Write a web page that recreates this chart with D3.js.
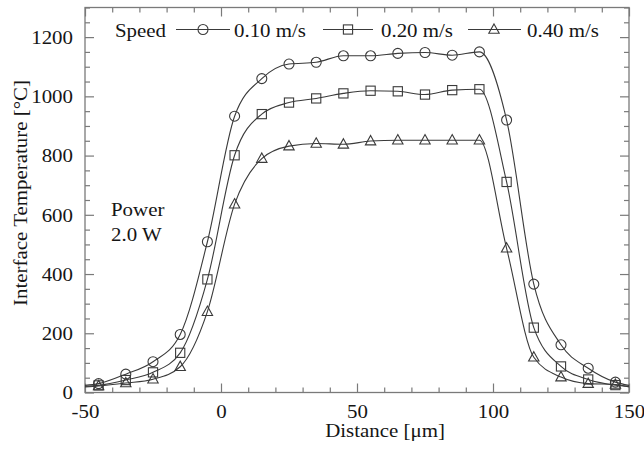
<!doctype html>
<html>
<head>
<meta charset="utf-8">
<title>Interface temperature</title>
<script src="https://cdnjs.cloudflare.com/ajax/libs/d3/7.8.5/d3.min.js"></script>
<style>
    body { margin: 0; background: #fff; }
    svg text {
        font-family: "Liberation Serif", "Times New Roman", serif;
        fill: #151515;
    }
    .tick line { stroke: #7a7a7a; stroke-width: 1.2; }
    .domain { display: none; }
    .curve { fill: none; stroke: #3a3a3a; stroke-width: 1.1; }
    .marker { fill: none; stroke: #3a3a3a; stroke-width: 1.1; }
</style>
</head>
<body>
<div id="chart"></div>
<script>
// Data
var distance = [-45, -35, -25, -15, -5, 5, 15, 25, 35, 45, 55, 65, 75, 85, 95, 105, 115, 125, 135, 145];
var speed010 = [30, 62, 104, 196, 509, 933, 1060, 1109, 1115, 1137, 1137, 1145, 1148, 1139, 1150, 920, 366, 161, 82, 35];
var speed020 = [24, 42, 68, 134, 382, 801, 940, 979, 993, 1010, 1019, 1017, 1006, 1021, 1024, 711, 219, 88, 44, 25];
var speed040 = [22, 32, 45, 87, 273, 636, 790, 832, 841, 838, 849, 852, 852, 852, 852, 487, 119, 52, 30, 27];
// where each curve meets the left (-50) and right (150) frame
var lineStart = [24, 21, 19];
var lineEnd = [24, 21, 19];
var seriesNames = ["0.10 m/s", "0.20 m/s", "0.40 m/s"];
var markerTypes = ["circle", "square", "triangle"];
var xTicks = [-50, 0, 50, 100, 150];
var yTicks = [0, 200, 400, 600, 800, 1000, 1200];

(function() {
    var width = 644, height = 449;
    var pLeft = 85, pRight = 629, pTop = 7.5, pBottom = 392.5;
    var sx = 1.1; // the figure's lettering is slightly wide

    var x = d3.scaleLinear().domain([-50, 150]).range([pLeft, pRight]);
    var y = d3.scaleLinear().domain([0, 1300]).range([pBottom, pTop]);

    var svg = d3.select("#chart").append("svg")
        .attr("width", width)
        .attr("height", height);

    // minor ticks
    var xMinor = d3.range(-50, 151, 10).filter(function(d) { return xTicks.indexOf(d) < 0; });
    var yMinor = d3.range(0, 1301, 50).filter(function(d) { return yTicks.indexOf(d) < 0; });

    function addAxis(axisFn, scale, pos, values, size) {
        return svg.append("g")
            .attr("transform", pos)
            .call(axisFn(scale).tickValues(values).tickSize(-size).tickFormat(""));
    }

    addAxis(d3.axisBottom, x, "translate(0," + pBottom + ")", xMinor, 5);
    addAxis(d3.axisTop, x, "translate(0," + pTop + ")", xMinor, 5);
    addAxis(d3.axisLeft, y, "translate(" + pLeft + ",0)", yMinor, 5);
    addAxis(d3.axisRight, y, "translate(" + pRight + ",0)", yMinor, 5);
    addAxis(d3.axisTop, x, "translate(0," + pTop + ")", xTicks, 9);
    addAxis(d3.axisRight, y, "translate(" + pRight + ",0)", yTicks, 9);

    // bottom axis with labels
    var xAxisG = svg.append("g")
        .attr("transform", "translate(0," + pBottom + ")")
        .call(d3.axisBottom(x).tickValues(xTicks).tickSize(-9).tickFormat(function(d) { return String(d); }));
    xAxisG.selectAll("text")
        .attr("y", 25.5)
        .attr("dy", 0)
        .attr("transform", "scale(" + sx + ",1)")
        .style("font-size", "19px");

    // left axis with labels
    var yAxisG = svg.append("g")
        .attr("transform", "translate(" + pLeft + ",0)")
        .call(d3.axisLeft(y).tickValues(yTicks).tickSize(-9).tickFormat(function(d) { return String(d); }));
    yAxisG.selectAll("text")
        .attr("x", -12 / sx)
        .attr("dy", "0.33em")
        .attr("transform", "scale(" + sx + ",1)")
        .style("font-size", "19px");

    // frame
    svg.append("rect")
        .attr("x", pLeft)
        .attr("y", pTop)
        .attr("width", pRight - pLeft)
        .attr("height", pBottom - pTop)
        .attr("fill", "none")
        .attr("stroke", "#7a7a7a")
        .attr("stroke-width", 1.3);

    // text helper, stretched horizontally like the original lettering
    function label(tx, ty, str, anchor, rot) {
        var g = svg.append("g")
            .attr("transform", "translate(" + tx + "," + ty + ")" + (rot ? " rotate(" + rot + ")" : "") + " scale(" + sx + ",1)");
        g.append("text")
            .attr("text-anchor", anchor || "start")
            .style("font-size", "19px")
            .text(str);
    }

    label((pLeft + pRight) / 2 + 28, 437, "Distance [\u03bcm]", "middle");
    label(27, 193, "Interface Temperature [\u00b0C]", "middle", -90);
    label(111, 216, "Power", "start");
    label(111, 241, "2.0 W", "start");

    // markers
    function drawMarker(sel, type, cx, cy) {
        if (type === "circle") {
            sel.append("circle").attr("class", "marker").attr("cx", cx).attr("cy", cy).attr("r", 5);
        } else if (type === "square") {
            sel.append("rect").attr("class", "marker").attr("x", cx - 4.6).attr("y", cy - 4.6).attr("width", 9.2).attr("height", 9.2);
        } else {
            sel.append("path").attr("class", "marker")
                .attr("d", "M" + cx + "," + (cy - 5.6) + "L" + (cx + 5.2) + "," + (cy + 3.8) + "L" + (cx - 5.2) + "," + (cy + 3.8) + "Z");
        }
    }

    var line = d3.line()
        .x(function(d) { return x(d[0]); })
        .y(function(d) { return y(d[1]); })
        .curve(d3.curveMonotoneX);

    [speed010, speed020, speed040].forEach(function(vals, i) {
        var pts = distance.map(function(d, j) { return [d, vals[j]]; });
        var curvePts = [[-50, lineStart[i]]].concat(pts, [[150, lineEnd[i]]]);
        var g = svg.append("g");
        g.append("path").datum(curvePts).attr("class", "curve").attr("d", line);
        pts.forEach(function(p) { drawMarker(g, markerTypes[i], x(p[0]), y(p[1])); });
    });

    // legend
    var legendY = 29.5;
    label(115, 37, "Speed", "start");
    var legendItems = [
        { x1: 176, x2: 230, mx: 203, tx: 234 },
        { x1: 323, x2: 373, mx: 348, tx: 381 },
        { x1: 468, x2: 521, mx: 494, tx: 527 }
    ];
    legendItems.forEach(function(it, i) {
        svg.append("line").attr("class", "curve")
            .attr("x1", it.x1).attr("x2", it.x2)
            .attr("y1", legendY).attr("y2", legendY);
        drawMarker(svg, markerTypes[i], it.mx, legendY);
        label(it.tx, 37, seriesNames[i], "start");
    });
})();
</script>
</body>
</html>
